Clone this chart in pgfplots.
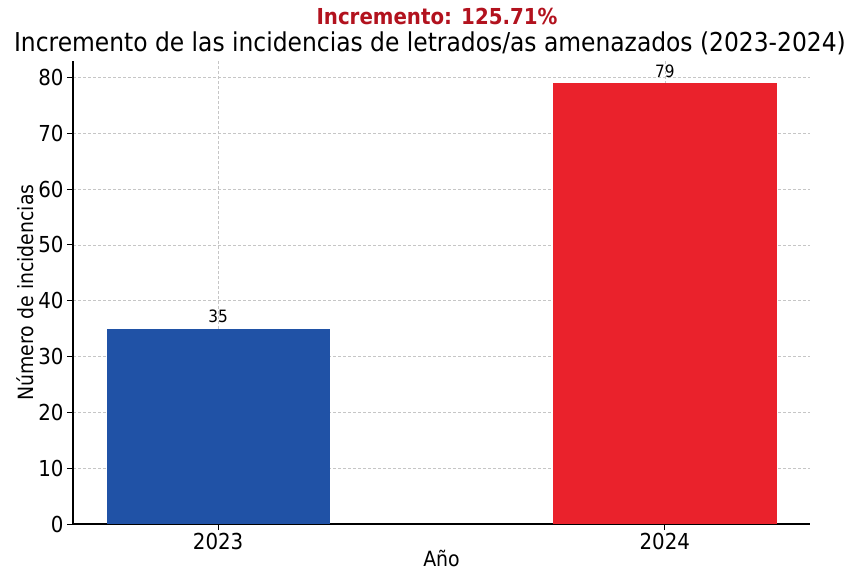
\documentclass[border=0pt]{standalone}
\usepackage{pgfplots}
\pgfplotsset{compat=1.18}
\usepackage{fontspec}
\setmainfont{DejaVu Sans Condensed}
\definecolor{barblue}{RGB}{32,82,166}
\definecolor{barred}{RGB}{234,34,44}
\definecolor{titlered}{RGB}{178,18,30}
\begin{document}
\begin{tikzpicture}
\begin{axis}[
  at={(0,0)}, anchor=south west,
  scale only axis, width=737pt, height=463pt,
  xmin=-0.325, xmax=1.325, ymin=0, ymax=82.95,
  xtick={0,1}, xticklabels={2023,2024},
  ytick={0,10,...,80},
  axis x line*=bottom, axis y line*=left,
  axis line style={line width=1.2pt, black},
  tick align=outside, major tick length=6pt,
  tick style={black, line width=0.9pt},
  grid=major,
  grid style={densely dashed, gray!45, line width=0.5pt},
  ybar, bar width=0.5, bar shift=0pt,
  tick label style={font=\fontsize{22}{24}\selectfont},
  /pgf/number format/assume math mode=true,
  xlabel={Año}, ylabel={Número de incidencias},
  label style={font=\fontsize{21}{24}\selectfont},
  xlabel style={yshift=7pt},
  ylabel style={yshift=-2pt},
  nodes near coords,
  nodes near coords style={font=\fontsize{17}{18}\selectfont, black, yshift=2pt},
]
\addplot[fill=barblue, draw=none] coordinates {(0,35)};
\addplot[fill=barred, draw=none] coordinates {(1,79)};
\end{axis}
\node[font=\fontsize{26}{28}\selectfont, anchor=center] at (357pt,481pt) {Incremento de las incidencias de letrados/as amenazados (2023-2024)};
\node[font=\bfseries\fontsize{22}{24}\selectfont, text=titlered, anchor=center] at (364pt,507pt) {Incremento: 125.71\%};
\pgfresetboundingbox
\path[use as bounding box] (-73pt,-51pt) rectangle (777pt,524pt);
\end{tikzpicture}
\end{document}
